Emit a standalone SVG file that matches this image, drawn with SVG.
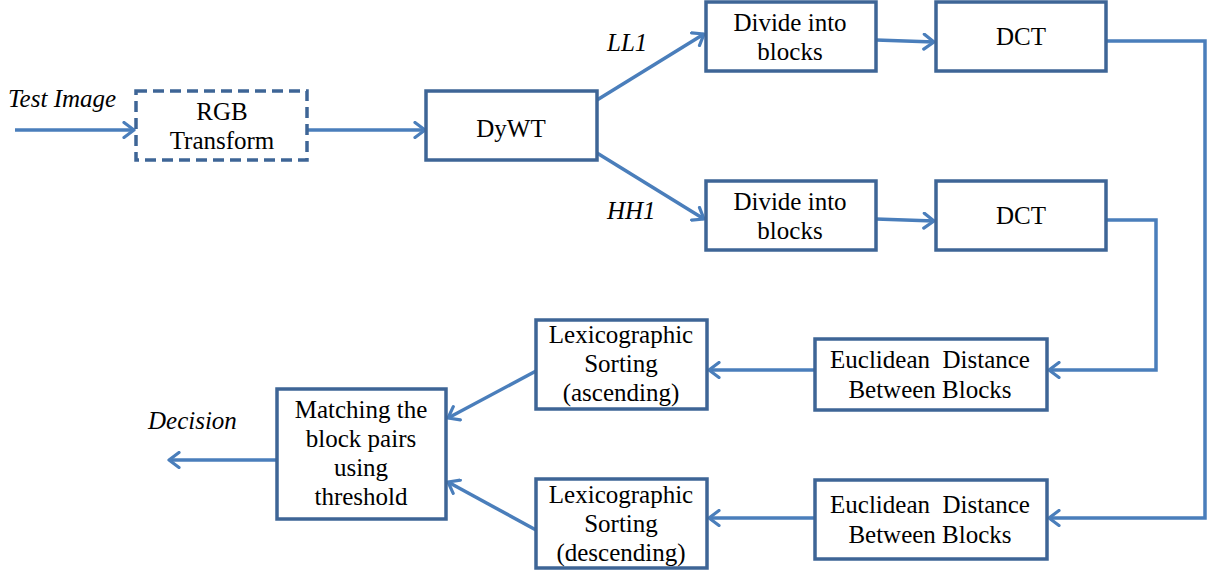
<svg xmlns="http://www.w3.org/2000/svg" width="1215" height="574" viewBox="0 0 1215 574">
<style>
.n{fill:#fff;stroke:#3E6596;stroke-width:3.5}
.d{stroke-dasharray:11 6}
.t{font-family:"Liberation Serif","Times New Roman",serif;font-size:25px;fill:#000;text-anchor:middle}
.i{font-family:"Liberation Serif","Times New Roman",serif;font-size:25px;font-style:italic;fill:#000}
.c{fill:none;stroke:#4A7EBB;stroke-width:3.5}
</style>
<defs>
<marker id="a" viewBox="0 0 14 18" refX="12" refY="9" markerWidth="14" markerHeight="18" markerUnits="userSpaceOnUse" orient="auto">
<path d="M2,1.5 L12,9 L2,16.5" fill="none" stroke="#4A7EBB" stroke-width="3.2" stroke-linecap="round" stroke-linejoin="round"/>
</marker>
</defs>
<rect width="1215" height="574" fill="#fff"/>
<g id="connectors">
<path class="c" d="M15,130 L134,130" marker-end="url(#a)"/>
<path class="c" d="M308,130 L425,130" marker-end="url(#a)"/>
<path class="c" d="M597,100 L704,34" marker-end="url(#a)"/>
<path class="c" d="M597,153 L704,219" marker-end="url(#a)"/>
<path class="c" d="M876,40 L934,42" marker-end="url(#a)"/>
<path class="c" d="M876,219 L934,221" marker-end="url(#a)"/>
<path class="c" d="M1106,41 L1205,41 L1205,518 L1049,518" marker-end="url(#a)"/>
<path class="c" d="M1106,220 L1156,220 L1156,370 L1049,370" marker-end="url(#a)"/>
<path class="c" d="M815,370 L709,370" marker-end="url(#a)"/>
<path class="c" d="M815,518 L709,518" marker-end="url(#a)"/>
<path class="c" d="M536,371 L448,418" marker-end="url(#a)"/>
<path class="c" d="M536,530 L448,482" marker-end="url(#a)"/>
<path class="c" d="M277,460 L169,460" marker-end="url(#a)"/>
</g>
<g id="labels">
<text class="i" x="8" y="107">Test Image</text>
<text class="i" x="607" y="51">LL1</text>
<text class="i" x="607" y="219">HH1</text>
<text class="i" x="148" y="429">Decision</text>
</g>
<g id="rgb">
<rect class="n d" x="136" y="91" width="171" height="69"/>
<text class="t" x="222" y="120">RGB</text>
<text class="t" x="222" y="149">Transform</text>
</g>
<g id="dywt">
<rect class="n" x="426" y="91" width="171" height="69"/>
<text class="t" x="511" y="137">DyWT</text>
</g>
<g id="divide1">
<rect class="n" x="706" y="2" width="170" height="69"/>
<text class="t" x="790" y="31">Divide into</text>
<text class="t" x="790" y="60">blocks</text>
</g>
<g id="divide2">
<rect class="n" x="706" y="181" width="170" height="69"/>
<text class="t" x="790" y="210">Divide into</text>
<text class="t" x="790" y="239">blocks</text>
</g>
<g id="dct1">
<rect class="n" x="936" y="2" width="170" height="69"/>
<text class="t" x="1021" y="45">DCT</text>
</g>
<g id="dct2">
<rect class="n" x="936" y="181" width="170" height="69"/>
<text class="t" x="1021" y="224">DCT</text>
</g>
<g id="euclid1">
<rect class="n" x="815" y="339" width="232" height="71"/>
<text class="t" x="930" y="368">Euclidean&#160; Distance</text>
<text class="t" x="930" y="398">Between Blocks</text>
</g>
<g id="euclid2">
<rect class="n" x="815" y="480" width="232" height="79"/>
<text class="t" x="930" y="513">Euclidean&#160; Distance</text>
<text class="t" x="930" y="543">Between Blocks</text>
</g>
<g id="lex1">
<rect class="n" x="536" y="320" width="171" height="89"/>
<text class="t" x="621" y="343">Lexicographic</text>
<text class="t" x="621" y="372">Sorting</text>
<text class="t" x="621" y="401">(ascending)</text>
</g>
<g id="lex2">
<rect class="n" x="536" y="479" width="171" height="89"/>
<text class="t" x="621" y="503">Lexicographic</text>
<text class="t" x="621" y="532">Sorting</text>
<text class="t" x="621" y="561">(descending)</text>
</g>
<g id="matching">
<rect class="n" x="277" y="389" width="169" height="130"/>
<text class="t" x="361" y="418">Matching the</text>
<text class="t" x="361" y="447">block pairs</text>
<text class="t" x="361" y="476">using</text>
<text class="t" x="361" y="505">threshold</text>
</g>
</svg>
